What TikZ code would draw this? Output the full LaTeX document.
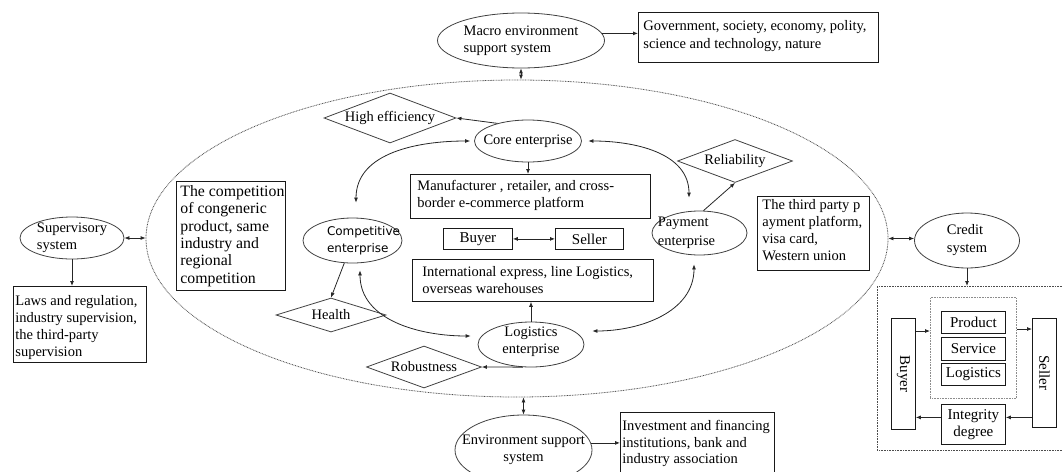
\documentclass[tikz,border=0pt]{standalone}
\usepackage{fontspec}
\setmainfont{Liberation Serif}
\newfontfamily\cesans{DejaVu Sans}
\usetikzlibrary{shapes.geometric,arrows.meta}
% W H L T fontsize baselineskip text
\newcommand{\tbox}[7]{\vbox to #2pt{\hsize=#1pt\vskip#4pt\hbox to #1pt{\hskip#3pt\fontsize{#5pt}{#6pt}\selectfont\begin{tabular}[t]{@{}l@{}}#7\end{tabular}\hss}\vss}}
\tikzset{
  ln/.style={draw=black!85, line width=0.8pt},
  arr/.style={ln, -{Latex[length=5pt,width=4pt]}},
  dbl/.style={ln, {Latex[length=5pt,width=4pt]}-{Latex[length=5pt,width=4pt]}},
  ell/.style={ellipse, draw=black!75, line width=0.8pt, inner sep=0pt},
  lab/.style={font=\fontsize{14.5pt}{17pt}\selectfont, inner sep=0pt, text=black},
  dia/.style={diamond, draw=black!75, line width=0.8pt, inner sep=0pt, font=\fontsize{14.5pt}{17pt}\selectfont},
  bx/.style={draw=black!90, line width=0.8pt, inner sep=0pt, anchor=north west, font=\fontsize{15pt}{17pt}\selectfont},
  dotbox/.style={draw=black!70, line width=0.8pt, dash pattern=on 0.8pt off 0.8pt, inner sep=0pt, anchor=north west},
  bigell/.style={ellipse, draw=black!70, line width=0.8pt, dash pattern=on 0.8pt off 0.8pt, inner sep=0pt},
}
\begin{document}
\begin{tikzpicture}[x=1pt,y=1pt]
\useasboundingbox (0,0) rectangle (1062,-471);
% central dotted ellipse
\node[bigell, minimum width=742pt, minimum height=317pt] (big) at (517,-238.5) {};
% top
\node[ell, minimum width=167pt, minimum height=55pt,
  label={[lab,align=left]center:Macro environment\\support system}] (macro) at (521,-40.5) {};
\node[bx] (gov) at (638,-12) {\tbox{240}{50}{5}{5}{14.5}{18}{Government, society, economy, polity,\\science and technology, nature}};
% left
\node[ell, minimum width=104pt, minimum height=42pt,
  label={[lab,align=left]center:Supervisory\\system}] (sup) at (72,-238) {};
\node[bx] (laws) at (13,-286) {\tbox{133}{76}{2}{7.5}{14.5}{17}{Laws and regulation,\\industry supervision,\\the third-party\\supervision}};
\node[bx] (comp) at (176,-181) {\tbox{109}{109}{4}{3}{15.8}{17.3}{The competition\\of congeneric\\product, same\\industry and\\regional\\competition}};
% inner ecosystem
\node[dia, aspect=2.64, minimum width=132pt, minimum height=50pt] (hieff) at (390,-118) {High efficiency};
\node[ell, minimum width=107pt, minimum height=42pt,
  label={[lab]center:Core enterprise}] (core) at (528,-141) {};
\node[bx] (manu) at (410,-174) {\tbox{240}{44}{7}{5}{14.5}{16.5}{Manufacturer , retailer, and cross-\\border e-commerce platform}};
\node[ell, minimum width=99pt, minimum height=45pt,
  label={[lab,font=\fontsize{12pt}{17pt}\cesans,align=left,xshift=11pt]center:Competitive\\enterprise}] (compE) at (352.5,-240.5) {};
\node[ell, minimum width=95pt, minimum height=44pt,
  label={[lab,font=\fontsize{14.5pt}{19pt}\selectfont,align=left,xshift=-13pt]center:Payment\\enterprise}] (pay) at (699.5,-233) {};
\node[dia, aspect=2.67, minimum width=115pt, minimum height=43pt] (reli) at (735,-161) {Reliability};
\node[bx, minimum width=69pt, minimum height=21pt] (buyer) at (443,-228) {Buyer};
\node[bx, minimum width=68pt, minimum height=21pt] (seller) at (555,-228) {Seller};
\node[bx] (intl) at (412,-259) {\tbox{241}{42}{10}{5.5}{14.5}{17}{International express, line Logistics,\\overseas warehouses}};
\node[ell, minimum width=106pt, minimum height=45pt,
  label={[lab,align=center,yshift=3pt]center:Logistics\\enterprise}] (logE) at (531,-344.5) {};
\node[dia, aspect=3.2, minimum width=110pt, minimum height=34pt] (health) at (331,-315) {Health};
\node[dia, aspect=2.74, minimum width=115pt, minimum height=42pt] (robust) at (424,-367) {Robustness};
% right
\node[bx] (third) at (757,-196) {\tbox{112}{74}{5}{1.5}{14.5}{17}{The third party p\\ayment platform,\\visa card,\\Western union}};
\node[ell, minimum width=105pt, minimum height=55pt,
  label={[lab,font=\fontsize{14.5pt}{18pt}\selectfont,align=left]center:Credit\\system}] (credit) at (967,-240.5) {};
\node[dotbox, minimum width=192pt, minimum height=164pt] (outer) at (877,-286) {};
\node[dotbox, draw=black!45, minimum width=86pt, minimum height=101pt] (inner) at (930,-297) {};
\node[bx, minimum width=64pt, minimum height=22pt] (product) at (941,-311) {Product};
\node[bx, minimum width=64pt, minimum height=23pt] (service) at (941,-337) {Service};
\node[bx, minimum width=64pt, minimum height=22pt] (logis) at (941,-363) {Logistics};
\node[bx, minimum width=24pt, minimum height=111pt,
  label={[lab,font=\fontsize{15pt}{17pt}\selectfont,rotate=-90]center:Buyer}] (vbuyer) at (891,-318) {};
\node[bx, minimum width=24pt, minimum height=109pt,
  label={[lab,font=\fontsize{15pt}{17pt}\selectfont,rotate=-90]center:Seller}] (vseller) at (1032,-318) {};
\node[bx, minimum width=64pt, minimum height=40pt, align=center] (integ) at (941,-404) {Integrity\\degree};
% bottom
\node[ell, minimum width=137pt, minimum height=70pt,
  label={[lab,align=center]center:Environment support\\system}] (env) at (523.5,-450) {};
\node[bx] (inv) at (620,-412) {\tbox{154}{64}{2}{7}{14.5}{16.5}{Investment and financing\\institutions, bank and\\industry association}};
% connectors
\draw[arr] (macro.5) -- (macro.5 -| gov.west);
\draw[dbl] (macro.south) -- (macro.south |- big.north);
\draw[dbl] (sup.east) -- (sup.east -| big.west);
\draw[arr] (sup.south) -- (sup.south |- laws.north);
\draw[arr] (core.150) -- (hieff.east);
\draw[arr] (core.south) -- (core.south |- manu.north);
\draw[dbl] ([xshift=-4pt]core.west) to[out=180,in=90] ([xshift=3.5pt,yshift=15pt]compE.north);
\draw[dbl] ([xshift=6.5pt]core.east) to[out=0,in=90] ([xshift=-10.5pt,yshift=13pt]pay.north);
\draw[arr] (pay.80) -- (reli.south);
\draw[dbl] (buyer.east) -- (seller.west);
\draw[arr] (compE.250) -- (health.north);
\draw[dbl] ([xshift=7.5pt,yshift=-7pt]compE.south) to[out=-90,in=180] ([xshift=-7pt,yshift=8.5pt]logE.west);
\draw[dbl] ([xshift=8pt,yshift=13.5pt]logE.east) to[out=0,in=-90] ([xshift=-5.5pt,yshift=-9pt]pay.south);
\draw[arr] (logE.north) -- (logE.north |- intl.south);
\draw[arr] (logE.250) -- (robust.east);
\draw[dbl] (env.north) -- (env.north |- big.south);
\draw[arr] (env.6) -- (env.6 -| inv.west);
\draw[dbl] (big.east) -- (big.east -| credit.west);
\draw[arr] (credit.south) -- (credit.south |- outer.north);
\coordinate (b1) at ([yshift=-13pt]vbuyer.north east);
\draw[arr] (b1) -- (b1 -| inner.west);
\coordinate (s1) at ([yshift=-32pt]inner.north east);
\draw[arr] (s1) -- (s1 -| vseller.west);
\coordinate (i1) at ([yshift=7pt]integ.east);
\draw[arr] (i1 -| vseller.west) -- (i1);
\coordinate (i2) at ([yshift=7pt]integ.west);
\draw[arr] (i2) -- (i2 -| vbuyer.east);
\end{tikzpicture}
\end{document}
